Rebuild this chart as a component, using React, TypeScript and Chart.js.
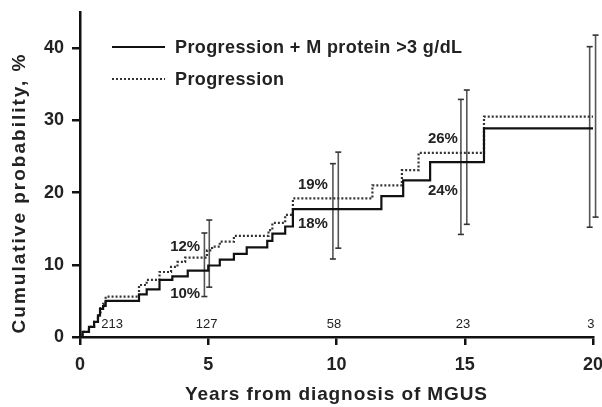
import React, { useEffect, useRef } from "react";
import { Chart, registerables } from "chart.js";

Chart.register(...registerables);

// Kaplan-Meier style cumulative probability (step values, % at year)
const solidYears = [0, 0.1, 0.35, 0.55, 0.7, 0.78, 0.9, 1.0, 2.3, 2.6, 3.1, 3.6, 4.2, 5.0, 5.45, 6.0, 6.5, 7.3, 7.5, 8.0, 8.3, 11.75, 12.6, 13.65, 15.75, 20];
const solidValues = [0, 0.7, 1.4, 2.1, 3.0, 3.9, 4.3, 5.0, 5.9, 6.6, 7.9, 8.4, 9.2, 9.9, 10.7, 11.5, 12.4, 13.3, 14.3, 15.3, 17.7, 19.5, 21.7, 24.2, 28.9, 28.9];

const dottedYears = [0, 0.1, 0.35, 0.55, 0.7, 0.8, 0.9, 1.0, 2.3, 2.6, 3.1, 3.55, 3.8, 4.1, 4.95, 5.15, 5.45, 6.0, 7.35, 7.5, 8.0, 8.3, 11.4, 12.55, 13.2, 15.75, 20];
const dottedValues = [0, 0.7, 1.4, 2.1, 3.0, 4.0, 4.6, 5.6, 7.2, 7.9, 9.0, 9.7, 10.4, 11.0, 12.0, 12.5, 13.2, 14.0, 14.8, 15.8, 16.9, 19.2, 21.0, 23.1, 25.5, 30.5, 30.5];

// Confidence intervals
const solidErrYears = [4.85, 9.86, 14.85, 19.87];
const solidErrLow = [5.6, 10.8, 14.2, 15.2];
const solidErrHigh = [14.4, 24.0, 32.9, 40.2];
const dottedErrYears = [5.04, 10.07, 15.08, 20.1];
const dottedErrLow = [6.9, 12.3, 15.6, 16.6];
const dottedErrHigh = [16.2, 25.6, 34.2, 41.8];

// Percentage annotations
const pctLabels = ["12%", "10%", "19%", "18%", "26%", "24%"];
const pctYears = [4.1, 4.1, 9.08, 9.08, 14.15, 14.15];
const pctValues = [12.5, 6.0, 21.0, 15.6, 27.4, 20.3];

// Numbers at risk
const atRiskLabels = ["213", "127", "58", "23", "3"];
const atRiskYears = [1.25, 4.94, 9.9, 14.93, 19.92];
const atRiskLevel = 1.8;

const xTicks = [0, 5, 10, 15, 20];
const yTicks = [0, 10, 20, 30, 40];

const seriesNames = ["Progression + M protein >3 g/dL", "Progression"];
const xTitle = "Years from diagnosis of MGUS";
const yTitle = "Cumulative probability, %";

const FONT = "'Liberation Sans', Arial, Helvetica, sans-serif";

const textPlugin = {
  id: "textPlugin",
  afterDraw(chart: any) {
    const ctx = chart.ctx;
    const xs = chart.scales.x;
    const ys = chart.scales.y;
    ctx.save();
    ctx.fillStyle = "#222";
    ctx.textAlign = "center";
    ctx.textBaseline = "middle";
    ctx.font = `bold 15px ${FONT}`;
    pctLabels.forEach((t, i) => {
      ctx.fillText(t, xs.getPixelForValue(pctYears[i]), ys.getPixelForValue(pctValues[i]));
    });
    ctx.font = `13px ${FONT}`;
    atRiskLabels.forEach((t, i) => {
      ctx.fillText(t, xs.getPixelForValue(atRiskYears[i]), ys.getPixelForValue(atRiskLevel));
    });
    // legend
    ctx.strokeStyle = "#111";
    ctx.lineWidth = 2;
    ctx.beginPath();
    ctx.moveTo(112, 47);
    ctx.lineTo(165, 47);
    ctx.stroke();
    ctx.setLineDash([2, 2]);
    ctx.strokeStyle = "#333";
    ctx.beginPath();
    ctx.moveTo(112, 79);
    ctx.lineTo(165, 79);
    ctx.stroke();
    ctx.setLineDash([]);
    ctx.textAlign = "left";
    ctx.font = `bold 18px ${FONT}`;
    (ctx as any).letterSpacing = "0.4px";
    ctx.fillStyle = "#222";
    ctx.fillText(seriesNames[0], 175, 48);
    ctx.fillText(seriesNames[1], 175, 80);
    // axis titles
    ctx.textAlign = "center";
    ctx.font = `bold 19px ${FONT}`;
    (ctx as any).letterSpacing = "0.9px";
    ctx.fillText(xTitle, (chart.chartArea.left + chart.chartArea.right) / 2, 395);
    (ctx as any).letterSpacing = "2px";
    ctx.translate(20, 193);
    ctx.rotate(-Math.PI / 2);
    ctx.fillText(yTitle, 0, 0);
    (ctx as any).letterSpacing = "0px";
    ctx.restore();
  },
};

export default function App() {
  const ref = useRef<HTMLCanvasElement>(null);
  useEffect(() => {
    if (!ref.current) return;
    const errSets: any[] = [];
    const mk = (x: number, lo: number, hi: number) => ({
      data: [{ x, y: lo }, { x, y: hi }],
      borderColor: "#555",
      borderWidth: 1.6,
      pointStyle: "line",
      pointRadius: 3,
      pointBorderWidth: 1.6,
      pointBorderColor: "#333",
      showLine: true,
      clip: false,
    });
    solidErrYears.forEach((x, i) => errSets.push(mk(x, solidErrLow[i], solidErrHigh[i])));
    dottedErrYears.forEach((x, i) => errSets.push(mk(x, dottedErrLow[i], dottedErrHigh[i])));
    const chart = new Chart(ref.current, {
      type: "line",
      data: {
        datasets: [
          {
            label: seriesNames[0],
            data: solidYears.map((x, i) => ({ x, y: solidValues[i] })),
            stepped: "before",
            borderColor: "#111",
            borderWidth: 2.2,
            pointRadius: 0,
            fill: false,
          },
          {
            label: seriesNames[1],
            data: dottedYears.map((x, i) => ({ x, y: dottedValues[i] })),
            stepped: "before",
            borderColor: "#333",
            borderWidth: 2.2,
            borderDash: [2, 2],
            pointRadius: 0,
            fill: false,
          },
          ...errSets,
        ] as any,
      },
      options: {
        animation: false,
        responsive: false,
        events: [],
        layout: { padding: { left: 0, right: 9, top: 12, bottom: 0 } },
        plugins: { legend: { display: false }, tooltip: { enabled: false } },
        scales: {
          x: {
            type: "linear",
            min: 0,
            max: 20,
            afterFit(s: any) {
              s.height = 70;
              s.paddingLeft = 0;
              s.paddingRight = 0;
            },
            afterBuildTicks(s: any) {
              s.ticks = xTicks.map((v) => ({ value: v }));
            },
            grid: { drawOnChartArea: false, drawTicks: true, tickLength: 8, color: "#111", lineWidth: 2.5 },
            border: { display: true, color: "#111", width: 2.5 },
            ticks: { color: "#222", font: { family: FONT, size: 18, weight: "bold" }, padding: 9, maxRotation: 0 },
          },
          y: {
            type: "linear",
            min: 0,
            max: 45,
            afterFit(s: any) {
              s.width = 80;
              s.paddingTop = 0;
              s.paddingBottom = 0;
            },
            afterBuildTicks(s: any) {
              s.ticks = yTicks.map((v) => ({ value: v }));
            },
            grid: { drawOnChartArea: false, drawTicks: true, tickLength: 8, color: "#111", lineWidth: 2.5 },
            border: { display: true, color: "#111", width: 2.5 },
            ticks: { color: "#222", font: { family: FONT, size: 18, weight: "bold" }, padding: 8 },
          },
        },
      } as any,
      plugins: [textPlugin],
    });
    return () => chart.destroy();
  }, []);
  return (
    <div style={{ position: "fixed", left: 0, top: 0, width: 602, height: 407, background: "#fff" }}>
      <canvas ref={ref} width={602} height={407} />
    </div>
  );
}
